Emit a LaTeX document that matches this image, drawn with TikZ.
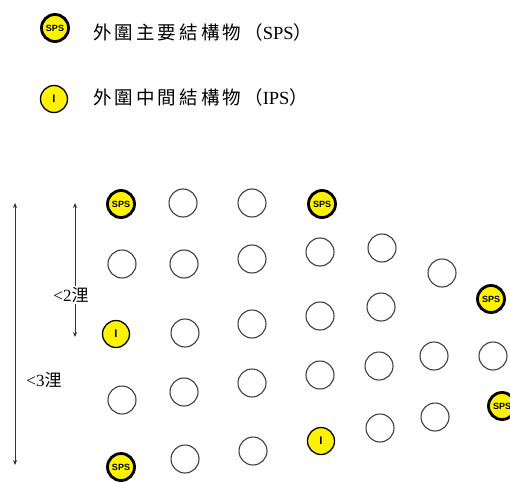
\documentclass[tikz,border=0pt]{standalone}
\usepackage{fontspec}
\setmainfont{Liberation Serif}
\newfontfamily\cjk{Noto Sans CJK TC}
\newfontfamily\lblfont{Liberation Sans}
\usetikzlibrary{arrows.meta}
\tikzset{
  plain/.style={circle, draw=black!75, fill=white, line width=1.1pt, minimum size=28pt, inner sep=0pt},
  spsnode/.style={circle, draw=black, fill=yellow, line width=2.8pt, minimum size=27pt, inner sep=0pt,
     font=\lblfont\bfseries\fontsize{9}{9}\selectfont},
  ipsnode/.style={circle, draw=black, fill=yellow, line width=1.3pt, minimum size=27pt, inner sep=0pt,
     font=\lblfont\bfseries\fontsize{11}{11}\selectfont},
  legtext/.style={anchor=west, inner sep=0pt, font=\fontsize{18.5}{18.5}\selectfont},
  dimtext/.style={inner sep=1pt, fill=white, font=\fontsize{17}{17}\selectfont},
  dimarrow/.style={{Stealth[length=5pt,width=4pt]}-{Stealth[length=5pt,width=4pt]}, draw=black!80, line width=0.8pt}
}
\begin{document}
\begin{tikzpicture}[x=1pt,y=-1pt]
\useasboundingbox (0,0) rectangle (510,481);
\clip (0,0) rectangle (510,481);
% legend
\node[spsnode] (legS) at (55,28) {SPS};
\node[legtext] (legSt) at (93,32) {{\cjk 外\,圍\,主\,要\,結\,構\,物\,（}SPS{\cjk ）}};
\node[ipsnode] (legI) at (54,99) {I};
\node[legtext] (legIt) at (93,97) {{\cjk 外\,圍\,中\,間\,結\,構\,物\,（}IPS{\cjk ）}};
% column 1
\node[spsnode] (a1) at (121,204) {SPS};
\node[plain] (a2) at (122,264) {};
\node[ipsnode] (a3) at (116,334) {I};
\node[plain] (a4) at (122,400) {};
\node[spsnode] (a5) at (121,467) {SPS};
% column 2
\node[plain] (b1) at (183,203) {};
\node[plain] (b2) at (184,264) {};
\node[plain] (b3) at (185,333) {};
\node[plain] (b4) at (184,392) {};
\node[plain] (b5) at (185,459) {};
% column 3
\node[plain] (c1) at (252,203) {};
\node[plain] (c2) at (252,259) {};
\node[plain] (c3) at (252,324) {};
\node[plain] (c4) at (252,383) {};
\node[plain] (c5) at (253,451) {};
% column 4
\node[spsnode] (d1) at (322,204) {SPS};
\node[plain] (d2) at (320,252) {};
\node[plain] (d3) at (320,316) {};
\node[plain] (d4) at (320,375) {};
\node[ipsnode] (d5) at (321,441) {I};
% column 5
\node[plain] (e1) at (382,248) {};
\node[plain] (e2) at (381,307) {};
\node[plain] (e3) at (379,366) {};
\node[plain] (e4) at (380,428) {};
% column 6
\node[plain] (f1) at (442,273) {};
\node[plain] (f2) at (434,356) {};
\node[plain] (f3) at (435,417) {};
% column 7
\node[spsnode] (g1) at (491,299) {SPS};
\node[plain] (g2) at (493,356) {};
\node[spsnode] (g3) at (502,406) {SPS};
% dimension arrows
\coordinate (L1) at (15,203);
\coordinate (L2) at (15,465);
\coordinate (S1) at (75,203);
\coordinate (S2) at (75,337);
\draw[dimarrow] (L1) -- (L2);
\draw[dimarrow] (S1) -- (S2);
\node[dimtext] (two) at (71,295) {<2{\cjk 浬}};
\node[dimtext] (three) at (44,380) {<3{\cjk 浬}};
\end{tikzpicture}
\end{document}
